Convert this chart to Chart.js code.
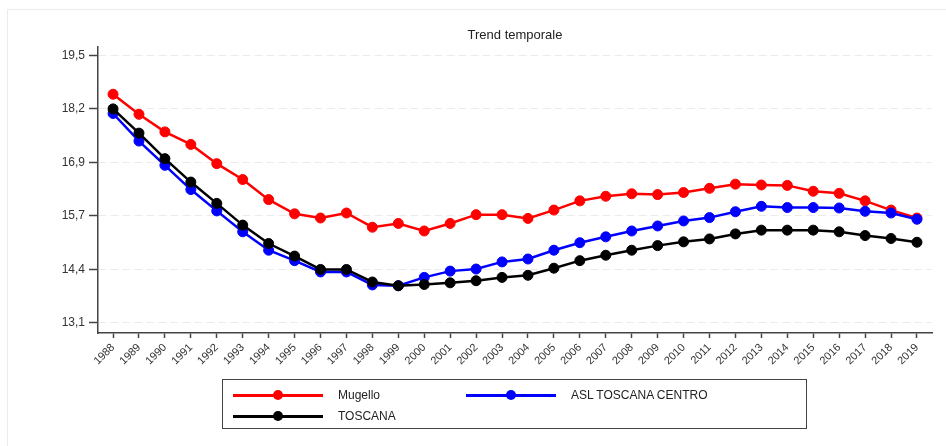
<!DOCTYPE html>
<html lang="it">
<head>
<meta charset="utf-8">
<title>Trend temporale</title>
<script src="https://cdn.jsdelivr.net/npm/chart.js"></script>
<style>
    body { margin: 0; background: #fff; font-family: "Liberation Sans", Arial, sans-serif; }
    #wrap { position: relative; width: 946px; height: 446px; overflow: hidden; }
    #frame { position: absolute; left: 7px; top: 9px; right: 0; bottom: 0; border-top: 1px solid #ececec; border-left: 1px solid #ececec; }
    #chart { position: absolute; left: 0; top: 0; }
    #legend {
        position: absolute; left: 222px; top: 379px; width: 583px; height: 48px;
        border: 1.5px solid #444; box-sizing: content-box;
    }
    .item { position: absolute; height: 20px; font-size: 12px; color: #222; line-height: 20px; }
    .item .line { position: absolute; left: 0; top: 8.5px; width: 90px; height: 3px; }
    .item .dot { position: absolute; left: 40px; top: 5px; width: 10px; height: 10px; border-radius: 50%; }
    .item .txt { position: absolute; left: 105px; top: 0; white-space: nowrap; }
</style>
</head>
<body>
<div id="wrap">
    <div id="frame"></div>
    <canvas id="chart" width="946" height="446"></canvas>
    <div id="legend"></div>
</div>
<script>
// Data
const years = [1988, 1989, 1990, 1991, 1992, 1993, 1994, 1995, 1996, 1997, 1998, 1999, 2000, 2001, 2002, 2003,
    2004, 2005, 2006, 2007, 2008, 2009, 2010, 2011, 2012, 2013, 2014, 2015, 2016, 2017, 2018, 2019];

const mugello = [18.57, 18.09, 17.67, 17.37, 16.91, 16.53, 16.05, 15.71, 15.61, 15.73, 15.39, 15.48, 15.30, 15.48, 15.69, 15.69,
    15.60, 15.80, 16.02, 16.13, 16.19, 16.17, 16.22, 16.32, 16.42, 16.40, 16.39, 16.25, 16.20, 16.02, 15.80, 15.61];

const aslCentro = [18.11, 17.45, 16.87, 16.29, 15.78, 15.28, 14.84, 14.59, 14.32, 14.32, 14.01, 13.99, 14.19, 14.34, 14.39, 14.56,
    14.63, 14.84, 15.02, 15.16, 15.30, 15.42, 15.54, 15.62, 15.76, 15.89, 15.86, 15.86, 15.85, 15.77, 15.73, 15.58];

const toscana = [18.22, 17.64, 17.03, 16.47, 15.96, 15.44, 15.00, 14.70, 14.38, 14.38, 14.08, 13.99, 14.02, 14.06, 14.11, 14.19,
    14.24, 14.41, 14.59, 14.72, 14.84, 14.95, 15.04, 15.11, 15.23, 15.32, 15.32, 15.32, 15.28, 15.19, 15.12, 15.03];

const yTicks = [13.1, 14.38, 15.66, 16.94, 18.22, 19.5];

const seriesLabels = ["Mugello", "ASL TOSCANA CENTRO", "TOSCANA"];
const seriesColors = ["#ff0000", "#0000ff", "#000000"];
const chartTitle = "Trend temporale";

const axisColor = "#444";
const font = "'Liberation Sans', Arial, sans-serif";

// Build {x, y} points from the arrays
function toPoints(values) {
    return values.map((v, i) => ({ x: years[i], y: v }));
}

const seriesValues = [mugello, aslCentro, toscana];

const datasets = seriesValues.map((vals, i) => ({
    label: seriesLabels[i],
    data: toPoints(vals),
    borderColor: seriesColors[i],
    backgroundColor: seriesColors[i],
    pointBackgroundColor: seriesColors[i],
    pointBorderColor: seriesColors[i],
    borderWidth: 2.5,
    pointRadius: 5,
    pointBorderWidth: 1,
    tension: 0,
    order: 3 - i   // black on top, red at the bottom
}));

// Title centred over the plot area
const titlePlugin = {
    id: "plotTitle",
    afterDraw(chart) {
        const ctx = chart.ctx;
        const area = chart.chartArea;
        ctx.save();
        ctx.font = "13px " + font;
        ctx.fillStyle = "#222";
        ctx.textAlign = "center";
        ctx.textBaseline = "middle";
        ctx.fillText(chartTitle, (area.left + area.right) / 2, 35);
        ctx.restore();
    }
};

const chart = new Chart(document.getElementById("chart"), {
    type: "line",
    data: { datasets },
    plugins: [titlePlugin],
    options: {
        responsive: false,
        animation: false,
        layout: { padding: { top: 47, right: 14, bottom: 73, left: 0 } },
        plugins: {
            legend: { display: false },
            title: { display: false },
            tooltip: { enabled: false }
        },
        scales: {
            x: {
                type: "linear",
                min: 1987.42,
                max: 2019.58,
                afterBuildTicks: scale => { scale.ticks = years.map(v => ({ value: v })); },
                afterFit: scale => { scale.height = 40; },
                border: { display: true, color: axisColor, width: 1.5 },
                grid: {
                    drawOnChartArea: false,
                    drawTicks: true,
                    tickLength: 5,
                    tickColor: axisColor,
                    tickWidth: 1.5
                },
                ticks: {
                    autoSkip: false,
                    maxRotation: 45,
                    minRotation: 45,
                    padding: 3,
                    color: "#333",
                    font: { family: font, size: 11 },
                    callback: v => String(v)
                }
            },
            y: {
                min: 12.86,
                max: 19.70,
                afterBuildTicks: scale => { scale.ticks = yTicks.map(v => ({ value: v })); },
                afterFit: scale => { scale.width = 98; },
                border: { display: true, color: axisColor, width: 1.5, dash: [8, 4] },
                grid: {
                    color: "#ebebeb",
                    lineWidth: 1,
                    drawTicks: true,
                    tickLength: 9,
                    tickColor: axisColor,
                    tickWidth: 1.5,
                    tickBorderDash: []
                },
                ticks: {
                    padding: 4,
                    color: "#333",
                    font: { family: font, size: 12 },
                    callback: v => v.toFixed(1).replace(".", ",")
                }
            }
        }
    }
});

// Legend drawn as html: line with a dot, like the reference
const legendPos = [
    { left: 10, top: 5 },
    { left: 243, top: 5 },
    { left: 10, top: 26 }
];
const legend = document.getElementById("legend");
seriesLabels.forEach((name, i) => {
    const item = document.createElement("div");
    item.className = "item";
    item.style.left = legendPos[i].left + "px";
    item.style.top = legendPos[i].top + "px";
    item.innerHTML = `
        <div class="line" style="background:${seriesColors[i]}"></div>
        <div class="dot" style="background:${seriesColors[i]}"></div>
        <div class="txt">${name}</div>
    `;
    legend.appendChild(item);
});
</script>
</body>
</html>
